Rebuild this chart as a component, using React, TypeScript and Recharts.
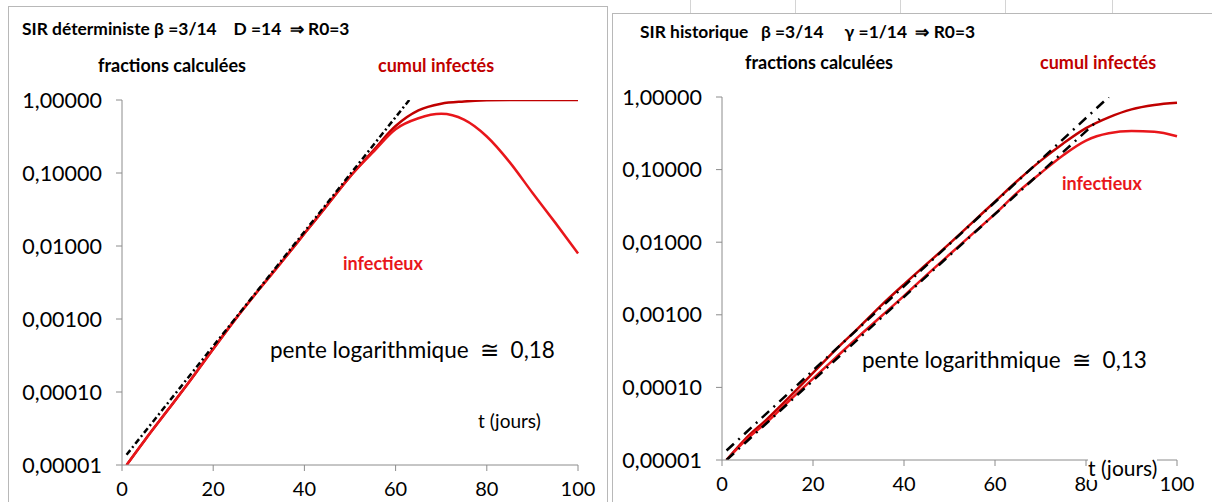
import React from "react";
import { LineChart, Line, XAxis, YAxis } from "recharts";

// jours (t)
const days = [1, 5, 10, 15, 20, 25, 30, 35, 40, 45, 50, 55, 60, 65, 70, 75, 80, 85, 90, 95, 100];

// SIR déterministe
const detInfectieux = [
	1e-5, 2.19e-5, 5.62e-5, 1.45e-4, 3.89e-4, 1.02e-3, 2.51e-3, 6.03e-3, 0.0148, 0.0363, 0.0891,
	0.191, 0.398, 0.562, 0.646, 0.537, 0.316, 0.141, 0.0537, 0.0209, 0.0079,
];
const detCumul = [
	1e-5, 2.19e-5, 5.62e-5, 1.45e-4, 3.89e-4, 1.02e-3, 2.51e-3, 6.03e-3, 0.0148, 0.0363, 0.0891,
	0.2, 0.44, 0.72, 0.89, 0.955, 0.99, 1, 1, 1, 1,
];
const detFitDays = [1, 32, 63];
const detFit = [1.38e-5, 3.7e-3, 1];

// SIR historique
const histCumul = [
	1e-5, 1.91e-5, 3.72e-5, 7.59e-5, 1.58e-4, 3.31e-4, 6.61e-4, 1.35e-3, 2.63e-3, 5.01e-3, 9.55e-3,
	0.0186, 0.0363, 0.0708, 0.132, 0.229, 0.372, 0.525, 0.676, 0.776, 0.832,
];
const histInfectieux = [
	1e-5, 1.82e-5, 3.39e-5, 6.76e-5, 1.32e-4, 2.57e-4, 5.01e-4, 9.55e-4, 1.82e-3, 3.55e-3, 6.76e-3,
	0.0129, 0.0245, 0.049, 0.0891, 0.158, 0.251, 0.316, 0.339, 0.331, 0.288,
];
const histFitADays = [1, 43, 85];
const histFitA = [1.35e-5, 3.7e-3, 1];
const histFitBDays = [1, 42, 83];
const histFitB = [1e-5, 2.3e-3, 0.5];

const xTicks = [0, 20, 40, 60, 80, 100];
const yTicks = [1e-5, 1e-4, 1e-3, 1e-2, 1e-1, 1];

const detData = days.map((t, i) => ({ t, inf: detInfectieux[i], cum: detCumul[i] }));
const detFitData = detFitDays.map((t, i) => ({ t, fit: detFit[i] }));
const histData = days.map((t, i) => ({ t, inf: histInfectieux[i], cum: histCumul[i] }));
const histFitAData = histFitADays.map((t, i) => ({ t, fit: histFitA[i] }));
const histFitBData = histFitBDays.map((t, i) => ({ t, fit: histFitB[i] }));

// restes de la feuille de calcul au-dessus du panneau droit
const sheetLines = [690, 795, 900, 1005, 1112];

const FONT = "Lato, 'Liberation Sans', Arial, sans-serif";
const DARK_RED = "#c00000";
const RED = "#e8161b";
const AXIS = "#8c8c8c";

const fmt = (v: number) => v.toFixed(5).replace(".", ",");

const txt = (x: number, y: number, size: number, color: string, bold: boolean, s: string, bg?: string) => (
	<div
		style={{
			position: "absolute",
			left: x,
			top: y,
			fontSize: size,
			color,
			fontWeight: bold ? 700 : 400,
			whiteSpace: "pre",
			background: bg,
			lineHeight: 1.15,
		}}>
		{s}
	</div>
);

const axes = (yWidth: number, xHeight: number) => [
	<XAxis
		key="x"
		type="number"
		dataKey="t"
		domain={[0, 100]}
		ticks={xTicks}
		allowDuplicatedCategory={false}
		height={xHeight}
		stroke={AXIS}
		tickSize={6}
		tick={{ fontSize: 20, fill: "#000", fontFamily: FONT, dy: 9 }}
	/>,
	<YAxis
		key="y"
		type="number"
		scale="log"
		domain={[1e-5, 1]}
		ticks={yTicks}
		allowDataOverflow
		width={yWidth}
		stroke={AXIS}
		tickSize={6}
		tickFormatter={fmt}
		tick={{ fontSize: 21.5, fill: "#000", fontFamily: FONT, dx: -12 }}
	/>,
];

export default function App() {
	return (
		<div style={{ position: "absolute", left: 0, top: 0, width: 1212, height: 502, background: "#fff", fontFamily: FONT, overflow: "hidden" }}>
			{sheetLines.map((x) => (
				<div key={x} style={{ position: "absolute", left: x, top: 0, width: 1, height: 13, background: "#d4d4d4" }} />
			))}
			{/* panneaux */}
			<div style={{ position: "absolute", left: 8, top: 6, width: 598, height: 510, border: "1px solid #b8b8b8" }} />
			<div style={{ position: "absolute", left: 612, top: 13, width: 610, height: 510, border: "1px solid #b8b8b8", background: "#fff" }} />

			<div style={{ position: "absolute", left: 8, top: 6 }}>
				<LineChart width={597} height={496} data={detData} margin={{ top: 94, right: 27, left: 0, bottom: 0 }}>
					{axes(114, 37)}
					<Line dataKey="cum" type="monotone" stroke={DARK_RED} strokeWidth={2.5} dot={false} isAnimationActive={false} />
					<Line dataKey="inf" type="monotone" stroke={RED} strokeWidth={2.5} dot={false} isAnimationActive={false} />
					<Line data={detFitData} dataKey="fit" type="linear" stroke="#000" strokeWidth={2.5} strokeDasharray="6 3 2 3" dot={false} isAnimationActive={false} />
				</LineChart>
			</div>

			<div style={{ position: "absolute", left: 612, top: 13 }}>
				<LineChart width={600} height={489} data={histData} margin={{ top: 84, right: 35, left: 0, bottom: 0 }}>
					{axes(110, 42)}
					<Line dataKey="cum" type="monotone" stroke={DARK_RED} strokeWidth={2.5} dot={false} isAnimationActive={false} />
					<Line dataKey="inf" type="monotone" stroke={RED} strokeWidth={2.5} dot={false} isAnimationActive={false} />
					<Line data={histFitAData} dataKey="fit" type="linear" stroke="#000" strokeWidth={2.5} strokeDasharray="10 6 2 6" dot={false} isAnimationActive={false} />
					<Line data={histFitBData} dataKey="fit" type="linear" stroke="#000" strokeWidth={2.5} strokeDasharray="10 6 2 6" dot={false} isAnimationActive={false} />
				</LineChart>
			</div>

			{/* textes gauche */}
			{txt(22, 19, 17.4, "#000", true, "SIR déterministe β =3/14    D =14  ⇒ R0=3")}
			{txt(98, 55, 18, "#000", true, "fractions calculées")}
			{txt(378, 55, 18, DARK_RED, true, "cumul infectés")}
			{txt(343, 253, 18, RED, true, "infectieux")}
			{txt(270, 337, 22.5, "#000", false, "pente logarithmique  ≅  0,18")}
			{txt(478, 410, 19, "#000", false, "t (jours)")}

			{/* textes droite */}
			{txt(640, 22, 17.4, "#000", true, "SIR historique   β =3/14     γ =1/14  ⇒ R0=3")}
			{txt(745, 52, 18, "#000", true, "fractions calculées")}
			{txt(1040, 52, 18, DARK_RED, true, "cumul infectés")}
			{txt(1062, 173, 18, RED, true, "infectieux")}
			{txt(862, 347, 22.5, "#000", false, "pente logarithmique  ≅  0,13")}
			{txt(1088, 456, 21, "#000", false, "t (jours)", "#fff")}
		</div>
	);
}
